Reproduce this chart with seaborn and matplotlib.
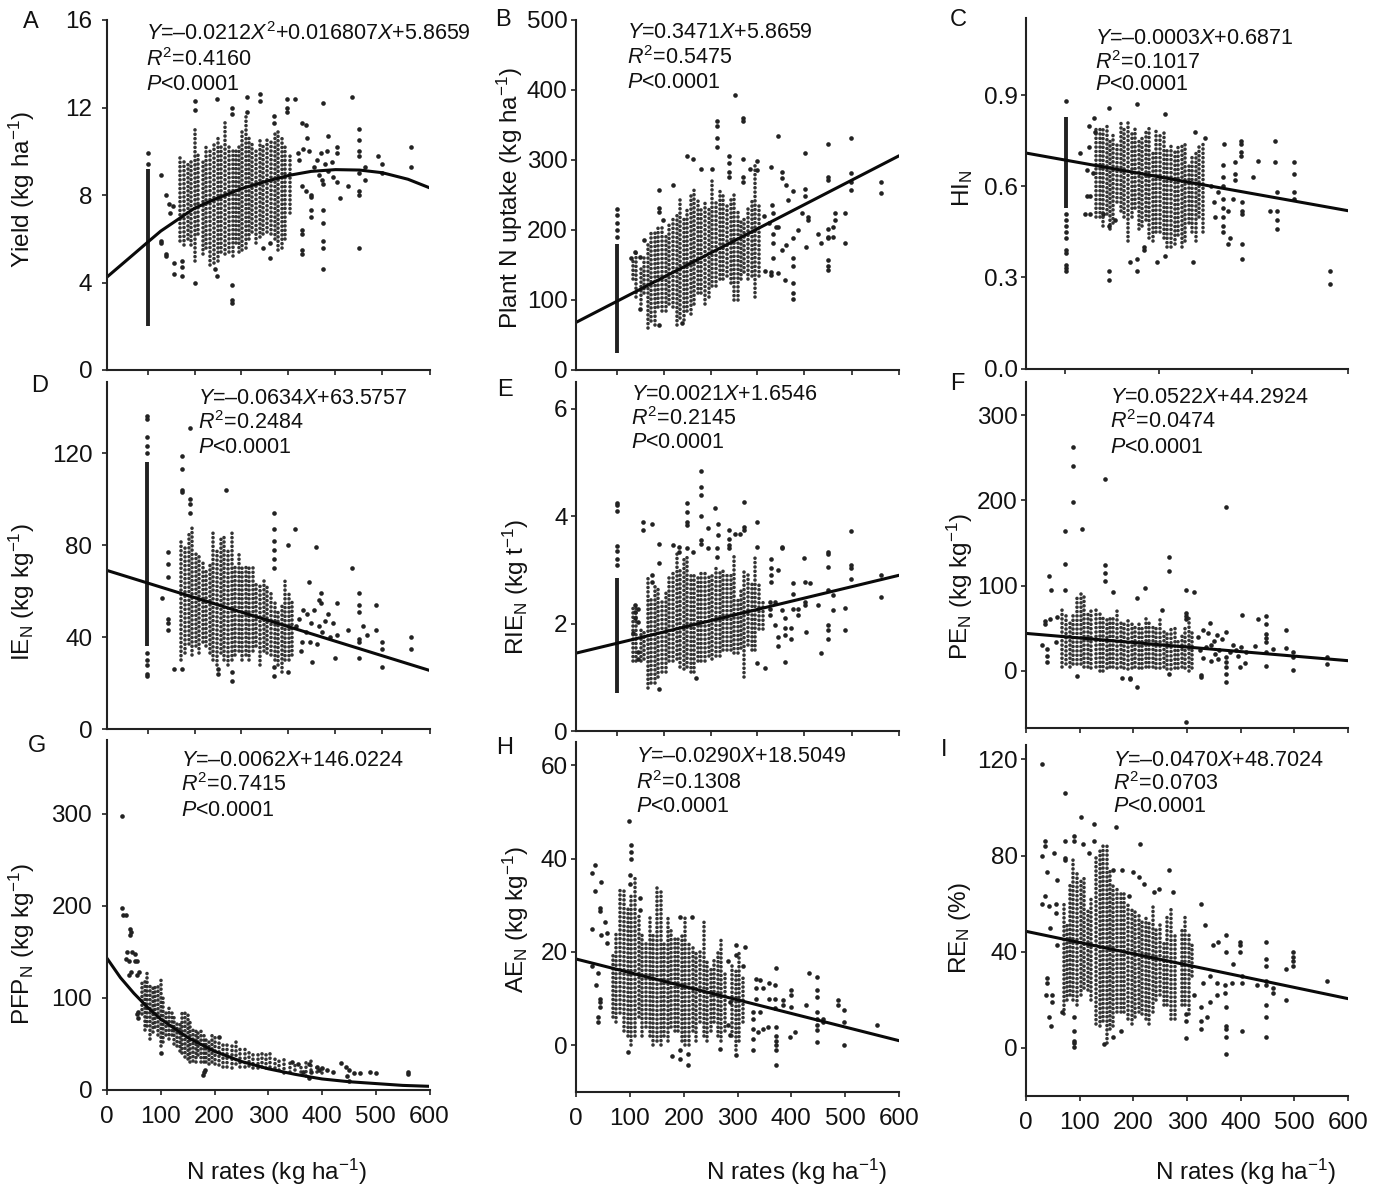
import numpy as np
import pandas as pd
import matplotlib
matplotlib.use("Agg")
import matplotlib.pyplot as plt
import seaborn as sns

sns.set_theme(style="ticks")
plt.rcParams["font.family"] = ["Liberation Sans", "DejaVu Sans"]
plt.rcParams["mathtext.fontset"] = "custom"
plt.rcParams["mathtext.rm"] = "Liberation Sans"
plt.rcParams["mathtext.it"] = "Liberation Sans:italic"
plt.rcParams["mathtext.default"] = "regular"

INK = "#222222"
W, H = 1382, 1195

# vertical runs of overlapping points: N rate, lowest and highest value of the run
# pts: the points that can be read one by one. fit: the fitted line.

# -- A yield --
a_col_x = [135,143,150,157,163,170,178,185,192,199,206,213,220,227,234,240,246,252,258,264,270,277,284,291,298,305,312,318,325,332,340]
a_col_lo = [5.9,5.7,6.0,5.7,5.0,6.2,5.3,5.6,4.8,4.9,5.0,5.4,5.3,5.4,5.2,5.8,5.4,5.5,5.6,6.0,6.3,5.8,6.1,6.2,6.3,6.2,6.0,5.5,5.6,6.0,7.2]
a_col_hi = [9.8,9.7,9.5,9.6,11.0,10.0,9.6,10.2,10.0,10.4,10.6,10.3,11.4,10.2,10.0,10.0,10.4,11.0,11.6,10.6,10.4,10.2,10.6,10.4,10.7,10.5,10.8,10.9,10.6,10.4,9.9]
a_strip = (76, 2.0, 9.2)
a_pts = [(76,9.9),(76,9.4),(163,12.3),(163,11.9),(204,12.4),(233,12.0),(233,11.7),(260,12.5),(260,11.8),(284,12.6),(284,12.3),(310,11.6),(310,11.3),(335,12.4),(335,12.0),(335,11.8),(350,12.4),(402,12.2),(455,12.5),(468,11.0),(468,10.5),(468,10.0),(468,9.8),(566,10.2),(566,9.3),(505,9.8),(511,9.4),(511,9.0),(412,10.7),(427,10.2),(427,9.9),(468,9.0),(468,8.2),(468,8.0),(480,9.3),(480,8.7),(449,8.4),(433,7.85),(402,8.5),(402,7.3),(402,6.7),(402,5.9),(402,5.6),(402,4.6),(380,7.9),(380,7.3),(380,7.0),(363,6.4),(363,6.2),(363,5.5),(363,5.3),(468,5.6),(233,3.9),(233,3.2),(233,3.05),(163,4.0),(140,4.3),(140,4.7),(140,5.0),(124,4.4),(124,4.9),(109,5.3),(109,5.2),(101,8.9),(101,5.9),(101,5.8),(110,8.0),(115,7.6),(123,7.5),(118,7.2),(200,4.6),(204,4.3),(304,5.1),(304,5.8),(290,5.6),(362,8.4),(371,8.2),(380,8.0),(390,9.6),(398,9.9),(405,9.4),(412,9.1),(420,8.8),(428,8.6),(395,8.9),(385,9.3),(375,10.0),(365,10.1),(355,9.9),(370,11.2),(362,11.3),(372,10.6),(358,9.6),(410,10.0),(400,8.7),(418,9.5)]
a_fit_x = [0,50,76,100,163,200,251,300,339,380,425,470,512,560,600]
a_fit_y = [4.25,5.3,5.85,6.35,7.4,7.8,8.3,8.65,8.9,9.08,9.16,9.14,9.02,8.72,8.33]

# -- B plant N uptake --
b_col_x = [105,112,120,127,133,140,147,153,160,167,173,180,187,193,200,207,213,220,227,233,240,247,253,260,267,273,280,287,293,300,307,313,320,327,333,340]
b_col_lo = [130,105,95,110,60,70,65,90,85,85,95,90,65,75,72,85,80,95,110,110,95,105,120,120,130,130,135,125,100,100,130,140,130,135,105,135]
b_col_hi = [160,170,150,165,180,200,200,205,205,195,210,215,225,245,215,230,250,260,245,230,240,230,270,240,260,250,240,245,255,230,215,215,235,245,295,240]
b_strip = (76, 25, 180)
b_pts = [(76,190),(76,200),(76,210),(76,222),(76,230),(295,393),(310,360),(310,355),(262,355),(262,348),(262,331),(262,319),(207,305),(218,302),(233,287),(253,287),(284,305),(284,295),(284,283),(284,276),(310,302),(310,276),(310,269),(324,287),(337,298),(337,286),(363,290),(382,283),(382,274),(375,334),(468,323),(468,276),(468,271),(511,332),(511,281),(511,269),(511,257),(566,268),(566,253),(425,310),(425,259),(425,248),(180,264),(155,257),(155,231),(155,226),(161,214),(126,186),(103,160),(110,169),(119,162),(118,87),(155,64),(197,67),(456,181),(468,202),(468,190),(468,188),(468,157),(468,148),(468,143),(478,205),(478,190),(482,224),(482,214),(500,224),(500,181),(450,195),(428,176),(403,160),(403,148),(403,124),(403,110),(403,102),(388,129),(375,138),(363,140),(363,136),(351,142),(382,171),(391,179),(403,188),(412,200),(419,224),(431,219),(431,214),(391,264),(403,255),(394,243),(366,224),(366,195),(366,181),(375,205),(366,160),(350,220),(358,210),(365,235),(372,205)]
b_fit_x = [0,600]
b_fit_y = [68,306]

# -- C HI --
c_col_x = [130,137,143,150,157,163,170,177,183,190,197,203,210,217,223,230,237,243,250,257,263,270,277,283,290,297,303,310,317,323,330]
c_col_lo = [.50,.50,.47,.51,.46,.48,.55,.52,.50,.42,.50,.53,.46,.47,.49,.43,.42,.45,.45,.43,.40,.40,.41,.44,.40,.42,.48,.45,.42,.50,.45]
c_col_hi = [.80,.80,.79,.81,.76,.78,.74,.81,.80,.81,.78,.80,.76,.77,.78,.80,.72,.79,.78,.79,.73,.74,.72,.73,.74,.75,.68,.70,.72,.73,.75]
c_strip = (75, .53, .83)
c_pts = [(75,.88),(75,.51),(75,.49),(75,.47),(75,.45),(75,.43),(75,.39),(75,.38),(75,.34),(75,.33),(75,.32),(154,.86),(206,.87),(259,.84),(315,.78),(334,.76),(369,.74),(400,.75),(400,.74),(400,.715),(400,.70),(433,.685),(464,.75),(464,.68),(499,.68),(499,.64),(423,.63),(467,.58),(467,.52),(467,.49),(467,.46),(454,.52),(499,.58),(499,.56),(566,.32),(566,.28),(402,.55),(402,.52),(402,.51),(402,.36),(380,.43),(376,.41),(402,.41),(311,.35),(259,.37),(245,.35),(206,.36),(206,.32),(193,.35),(154,.32),(154,.29),(219,.40),(219,.39),(368,.67),(368,.63),(368,.60),(368,.56),(368,.53),(368,.50),(368,.47),(368,.45),(389,.68),(389,.64),(389,.62),(352,.50),(101,.71),(117,.73),(117,.80),(127,.825),(129,.78),(113,.655),(120,.57),(113,.57),(120,.51),(110,.51),(125,.645),(144,.51),(154,.47),(166,.49),(345,.60),(350,.55),(358,.58),(376,.52),(385,.56)]
c_fit_x = [0,600]
c_fit_y = [.71,.52]

# -- D IE --
d_col_x = [138,145,152,158,165,172,178,185,192,198,205,212,218,225,232,238,245,252,258,265,272,278,285,292,298,305,312,318,325,332,338,345]
d_col_lo = [30,33,37,32,36,33,38,36,33,30,28,33,30,28,30,32,34,30,32,30,34,36,28,34,33,32,30,28,25,30,30,32]
d_col_hi = [82,80,85,88,78,76,74,70,72,86,78,84,84,78,86,72,76,70,72,70,71,64,64,66,62,60,55,52,54,65,60,56]
d_strip = (75, 36, 116)
d_pts = [(75,23),(75,24),(75,28),(75,30),(75,33),(75,120),(75,123),(75,127),(75,135),(75,136),(155,131),(140,119),(140,113),(140,104),(140,103),(154,100),(154,98),(154,94),(221,104),(310,94),(310,87),(310,82),(310,78),(310,74),(310,70),(350,87),(337,80),(389,79),(455,70),(376,64),(399,59),(399,55),(428,55),(468,59),(468,54),(468,51),(500,54),(500,43),(449,43),(477,45),(483,41),(468,39),(468,38),(468,31),(511,38),(511,35),(566,40),(566,35),(511,27),(424,31),(381,29),(337,25),(310,27),(310,23),(233,25),(233,21),(207,26),(207,24),(140,26),(124,26),(114,77),(114,72),(114,66),(114,48),(114,46),(114,43),(102,57),(405,47),(412,50),(420,46),(428,41),(400,42),(395,56),(385,52),(395,45),(380,46),(372,50),(365,52),(358,48),(370,42),(362,38),(378,38),(390,37),(414,40),(352,45),(360,34)]
d_fit_x = [0,600]
d_fit_y = [69,25.5]

# -- E RIE --
e_col_x = [105,112,120,127,133,140,147,153,160,167,173,180,187,193,200,207,213,220,227,233,240,247,253,260,267,273,280,287,293,300,307,313,320,327,333,340,347]
e_col_lo = [1.3,1.3,1.3,1.35,.8,.9,.9,1.0,1.1,1.1,1.3,1.3,1.35,1.2,1.15,1.2,1.1,1.1,1.3,1.3,1.3,1.4,1.35,1.4,1.4,1.5,1.5,1.5,1.45,1.45,1.55,1.0,1.6,1.5,1.5,1.9,1.9]
e_col_hi = [2.3,2.3,1.9,1.9,2.9,2.5,2.7,2.7,2.4,2.6,2.9,3.0,3.3,3.0,3.2,3.3,2.9,2.9,2.9,3.0,3.0,2.9,2.9,3.1,3.0,3.0,2.9,2.9,3.3,2.5,2.6,3.0,2.9,2.8,3.3,2.8,2.4]
e_strip = (76, .7, 2.85)
e_pts = [(76,3.1),(76,3.2),(76,3.35),(76,3.45),(76,4.1),(76,4.2),(76,4.25),(233,4.85),(233,4.55),(233,4.4),(233,4.0),(207,4.25),(207,4.08),(207,3.9),(207,3.83),(259,4.16),(312,4.27),(337,3.9),(263,3.85),(263,3.65),(245,3.78),(284,3.75),(284,3.58),(284,3.46),(284,3.4),(295,3.66),(304,3.66),(312,3.8),(312,3.74),(125,3.9),(125,3.74),(142,3.86),(155,3.48),(155,3.12),(181,3.46),(191,3.43),(191,3.33),(207,3.4),(218,3.34),(233,3.55),(233,3.49),(245,3.4),(261,3.4),(261,3.24),(337,3.43),(363,3.2),(363,3.03),(363,2.9),(363,2.78),(382,3.43),(382,3.4),(375,3.0),(424,3.22),(468,3.33),(468,3.3),(468,3.06),(511,3.72),(511,3.09),(511,3.03),(511,2.84),(566,2.9),(566,2.5),(500,2.3),(500,1.88),(478,2.53),(478,2.25),(468,2.62),(468,1.97),(468,1.88),(468,1.72),(450,2.34),(455,1.46),(428,1.85),(425,2.78),(425,2.4),(425,2.34),(434,2.75),(403,2.75),(403,2.56),(403,2.28),(400,1.91),(400,1.72),(388,2.1),(388,1.91),(388,1.79),(389,1.28),(375,1.75),(375,1.59),(369,1.97),(351,1.17),(337,1.26),(412,2.28),(412,2.16),(360,2.28),(360,2.16),(360,2.41),(382,2.25),(369,2.4),(222,.99),(155,.78),(110,2.34),(110,2.22),(110,2.1),(116,2.28),(116,2.03),(116,1.48),(116,1.35),(105,1.82),(142,2.9),(142,2.78)]
e_fit_x = [0,600]
e_fit_y = [1.45,2.9]

# -- F PE --
f_col_x = [68,75,82,88,95,102,108,115,122,130,137,143,150,157,163,170,177,183,190,197,203,210,217,223,230,237,243,250,257,263,270,277,283,290,297,303,310]
f_col_lo = [5,8,5,8,8,8,5,5,3,5,0,0,3,4,4,3,4,3,2,3,4,3,3,4,5,5,3,3,5,2,2,3,3,4,3,0,3]
f_col_hi = [72,68,58,68,85,95,90,70,70,72,68,66,62,65,65,72,60,60,60,55,52,58,50,62,58,55,50,62,50,45,50,50,38,45,52,65,48]
f_pts = [(87,263),(87,241),(87,198),(148,225),(373,192),(72,164),(105,167),(72,126),(148,124),(148,115),(148,105),(267,134),(267,117),(42,111),(47,95),(72,95),(163,92),(222,97),(206,85),(298,95),(313,92),(254,71),(298,68),(298,64),(298,61),(402,66),(433,61),(447,64),(447,55),(447,43),(447,39),(447,34),(342,56),(373,46),(485,48),(485,27),(461,26),(427,29),(498,22),(498,16),(560,16),(560,8),(498,1),(447,22),(447,6),(408,9),(399,5),(373,16),(373,10),(373,5),(373,-4),(373,-13),(327,-5),(327,-7),(267,-4),(206,-19),(194,-8),(194,-10),(178,-8),(95,-6),(298,-60),(39,26),(39,18),(39,10),(30,30),(36,59),(36,55),(45,61),(55,34),(58,63),(345,30),(352,20),(358,14),(365,38),(345,12),(360,25),(335,28),(330,15),(320,40),(330,48),(340,44),(355,42),(385,30),(392,25),(400,28),(410,22),(380,22),(395,18),(350,35),(325,25)]
f_fit_x = [0,600]
f_fit_y = [44,12]

# -- G PFP --
g_col_x = [65,70,75,80,85,90,95,100,105,110,115,120,125,130,135,140,145,150,155,160,165,170,175,180,185,190,195,200,208,216,224,232,240,248,256,264,272,280,288,296,304,312,320,330,340,350,360,370,380,390,400]
g_col_lo = [82,65,70,55,63,68,60,48,52,60,55,60,50,48,42,40,36,34,30,32,30,38,30,30,30,28,30,28,27,25,25,24,28,25,25,26,24,24,25,24,25,24,22,18,20,22,20,15,22,20,18]
g_col_hi = [118,120,130,115,115,115,115,122,100,88,90,85,80,72,72,84,84,84,75,65,65,66,65,60,55,55,60,58,53,52,52,50,52,48,45,44,42,40,42,40,40,36,36,34,34,30,28,32,32,28,26]
g_pts = [(27,297),(27,198),(30,190),(35,190),(43,175),(45,172),(43,168),(38,150),(35,142),(40,140),(47,150),(52,148),(55,140),(45,128),(40,125),(55,125),(60,128),(53,140),(57,85),(55,82),(57,78),(100,40),(178,16),(180,20),(182,22),(208,58),(435,29),(420,20),(445,25),(447,15),(450,22),(460,19),(470,19),(450,10),(490,20),(500,19),(560,17),(560,20),(410,22),(400,24),(390,25),(375,13),(375,28),(380,20),(395,22),(365,20),(355,28),(345,30)]
g_fit_x = [0,25,50,75,100,150,200,250,300,350,400,450,500,550,600]
g_fit_y = [143,122,105,90,77,57,42,31,23,17,12,9,7,5,4]

# -- H AE --
h_col_x = [68,75,82,90,97,103,110,117,123,130,137,143,150,157,163,170,177,183,190,197,203,210,217,223,230,237,243,250,257,263,270,277,290,297,303,310]
h_col_lo = [6,5,7,3,2,0,2,6,2,4,2,0,1,0,2,1,4,3,3,1,0,0,3,1,5,2,1,3,5,2,1,3,2,-1,1,5]
h_col_hi = [20,24,34,34,30,32,36,28,24,22,28,24,34,33,22,28,25,23,23,24,28,22,21,20,20,27,18,17,19,20,23,16,17,16,20,15]
h_pts = [(98,48),(103,43),(103,41.5),(103,40),(100,36.5),(100,34.5),(29,37),(36,38.7),(36,33),(46,35),(45,29.4),(45,28.7),(29,25),(54,26.5),(57,24),(57,22),(46,23.7),(29,17),(41,15.4),(38,13),(45,10),(45,9.3),(45,8.2),(40,6),(40,5),(119,31.5),(119,29),(215,27.6),(193,27.6),(97,-1.4),(178,-2.2),(193,-1),(193,-3),(208,-1.8),(208,-4.3),(267,-.7),(298,-2),(329,-1),(329,1.4),(372,-4.3),(372,4),(372,2),(372,1),(372,0),(372,-1),(314,21),(298,21.6),(298,19.3),(310,17),(372,16.5),(433,15.6),(448,14.7),(448,11.8),(448,10.4),(448,4.3),(448,3.2),(448,.7),(486,9.7),(486,8.6),(498,7.5),(498,5),(498,.1),(560,4.4),(399,11.8),(399,10.8),(399,8.2),(385,9.7),(385,8.6),(406,2.9),(398,1.8),(428,8.6),(459,5.7),(459,5),(447,7.2),(447,5.7),(359,13.3),(359,10),(369,12.9),(369,10),(369,7.9),(348,12.2),(348,3.6),(335,14.3),(335,12.2),(335,10),(341,14),(341,7.2),(329,7.2),(329,5.7),(329,3.6),(357,4),(338,2.9),(283,18),(283,4.3),(286,9.3),(286,2.2)]
h_fit_x = [0,600]
h_fit_y = [18.5,1]

# -- I RE --
i_col_x = [70,76,82,88,95,102,108,115,122,130,137,143,150,157,163,170,177,183,190,197,203,210,217,223,230,237,243,250,257,263,270,277,290,297,303,310]
i_col_lo = [14,20,22,20,18,22,25,24,20,10,9,11,2,8,9,15,15,15,12,10,13,15,14,12,10,15,20,22,18,18,12,12,18,18,14,30]
i_col_hi = [60,52,68,78,74,70,72,58,62,80,83,85,85,75,68,66,64,64,60,58,57,56,54,54,52,60,50,52,45,55,58,48,50,55,48,44]
i_pts = [(29,118),(72,106),(102,96),(127,93),(167,92),(213,85),(36,86),(36,84),(29,80),(53,81),(39,73),(58,70),(35,63),(29,60),(42,59),(56,60),(56,56),(44,50),(39,29),(39,27),(38,22),(48,22),(48,19),(42,13),(47,9),(58,43),(67,15),(89,7),(89,3),(89,2),(89,.3),(89,13),(146,1.7),(162,4.7),(177,7),(72,86),(89,88),(89,86),(73,79),(73,78),(106,85),(117,81),(127,86),(267,74),(273,65),(247,66),(239,65),(219,68),(200,73),(210,71),(178,74),(163,74),(192,63),(327,60),(334,51),(349,43),(358,44),(373,47),(373,40),(399,44),(399,43),(399,40),(386,35),(447,44),(447,37),(447,34),(498,40),(498,38),(498,36),(498,34),(485,33),(560,28),(485,20),(447,18),(447,13),(447,4.7),(402,7),(373,17),(373,9),(373,8),(373,4.4),(373,-2.5),(298,4),(298,14),(298,11),(327,17),(327,11),(327,8),(337,13),(461,25),(461,23),(447,28),(447,26),(430,26),(402,30),(402,27),(383,27),(371,26),(371,23),(355,27),(355,22),(343,19),(313,22),(330,27),(343,30)]
i_fit_x = [0,600]
i_fit_y = [48.5,20.5]

TICKS_7 = [76,163,250,337,424,512,600]
TICKS_6 = [0,100,200,300,400,500,600]

R2 = r"$\mathit{R}^{2}$="
P = r"$\mathit{P}$<0.0001"


def px_box(left, top, right, bottom):
    return [left / W, 1 - bottom / H, (right - left) / W, (bottom - top) / H]


def draw_panel(box, ylim, yticks, ylabels, xticks, cols, strip, pts, fit, pad):
    ax = fig.add_axes(px_box(*box))
    ax.patch.set_alpha(0)
    if strip is not None:
        ax.vlines(strip[0], strip[1], strip[2], color=INK, lw=2.8)
    ax.vlines(cols[0], cols[1], cols[2], color=INK, lw=2.6, alpha=.92,
              linestyles=[(0, (0.01, 1.2))], capstyle="round")
    df = pd.DataFrame(pts, columns=["rate", "value"])
    sns.scatterplot(data=df, x="rate", y="value", ax=ax, s=11, color=INK,
                    linewidth=0, clip_on=False, legend=False)
    sns.lineplot(x=fit[0], y=fit[1], ax=ax, color="#0a0a0a", lw=2.2, errorbar=None, sort=False)
    ax.set_xlim(0, 600)
    ax.set_ylim(*ylim)
    ax.set_xticks(xticks)
    ax.set_yticks(yticks)
    ax.set_yticklabels(ylabels)
    ax.tick_params(axis="y", length=3.6, width=1.2, pad=pad, labelsize=17.5, color=INK, labelcolor="#111111")
    ax.tick_params(axis="x", length=3.6, width=1.2, pad=8, labelsize=17.5, color=INK, labelcolor="#111111")
    ax.set_xlabel("")
    ax.set_ylabel("")
    sns.despine(ax=ax)
    for side in ["left", "bottom"]:
        ax.spines[side].set_linewidth(1.5)
        ax.spines[side].set_color(INK)
    return ax


def put(x, y, s, **kw):
    fig.text(x / W, 1 - y / H, s, color="#111111", **kw)


fig = plt.figure(figsize=(W / 100, H / 100), dpi=100)

COL1, COL2, COL3 = (107, 429.5), (576, 899), (1026, 1348)

ax_a = draw_panel((COL1[0], 20, COL1[1], 370), (0, 16), [0,4,8,12,16], ["0","4","8","12","16"], TICKS_7,
                  (a_col_x, a_col_lo, a_col_hi), a_strip, a_pts, (a_fit_x, a_fit_y), 7)
ax_b = draw_panel((COL2[0], 20, COL2[1], 370), (0, 500), [0,100,200,300,400,500], ["0","100","200","300","400","500"], TICKS_7,
                  (b_col_x, b_col_lo, b_col_hi), b_strip, b_pts, (b_fit_x, b_fit_y), 2.5)
ax_c = draw_panel((COL3[0], 18, COL3[1], 368.5), (0, 1.155), [0,.3,.6,.9], ["0.0","0.3","0.6","0.9"], [72,247,422,600],
                  (c_col_x, c_col_lo, c_col_hi), c_strip, c_pts, (c_fit_x, c_fit_y), 2.5)
ax_d = draw_panel((COL1[0], 382, COL1[1], 729), (0, 151), [0,40,80,120], ["0","40","80","120"], TICKS_7,
                  (d_col_x, d_col_lo, d_col_hi), d_strip, d_pts, (d_fit_x, d_fit_y), 7)
ax_e = draw_panel((COL2[0], 382, COL2[1], 731), (0, 6.5), [0,2,4,6], ["0","2","4","6"], TICKS_7,
                  (e_col_x, e_col_lo, e_col_hi), e_strip, e_pts, (e_fit_x, e_fit_y), 2.5)
ax_f = draw_panel((COL3[0], 382, COL3[1], 728), (-67, 339), [0,100,200,300], ["0","100","200","300"], TICKS_6,
                  (f_col_x, f_col_lo, f_col_hi), None, f_pts, (f_fit_x, f_fit_y), 2.5)
ax_g = draw_panel((COL1[0], 740, COL1[1], 1090), (0, 380), [0,100,200,300], ["0","100","200","300"], TICKS_6,
                  (g_col_x, g_col_lo, g_col_hi), None, g_pts, (g_fit_x, g_fit_y), 7)
ax_h = draw_panel((COL2[0], 742, COL2[1], 1092), (-10, 65), [0,20,40,60], ["0","20","40","60"], TICKS_6,
                  (h_col_x, h_col_lo, h_col_hi), None, h_pts, (h_fit_x, h_fit_y), 2.5)
ax_i = draw_panel((COL3[0], 745, COL3[1], 1096), (-20, 126), [0,40,80,120], ["0","40","80","120"], TICKS_6,
                  (i_col_x, i_col_lo, i_col_hi), None, i_pts, (i_fit_x, i_fit_y), 2.5)

for ax in [ax_a, ax_b, ax_c, ax_d, ax_e, ax_f]:
    ax.set_xticklabels([])

# panel letters
for s, x, y in [("A",31,22),("B",503,20),("C",958,20),("D",40,386),("E",505,390),("F",957,384),
                ("G",37,746),("H",505,748),("I",944,750)]:
    put(x, y, s, fontsize=17, ha="center", va="center")

# equations, R2 and P, three tight lines
for eq, r2, x, y0, y1, y2 in [
    (r"$\mathit{Y}$=–0.0212$\mathit{X}^{2}$+0.016807$\mathit{X}$+5.8659", "0.4160", 146, 34, 60, 85),
    (r"$\mathit{Y}$=0.3471$\mathit{X}$+5.8659", "0.5475", 627, 33, 58, 82),
    (r"$\mathit{Y}$=–0.0003$\mathit{X}$+0.6871", "0.1017", 1095, 38, 63, 85),
    (r"$\mathit{Y}$=–0.0634$\mathit{X}$+63.5757", "0.2484", 198, 398, 423, 447),
    (r"$\mathit{Y}$=0.0021$\mathit{X}$+1.6546", "0.2145", 631, 394, 419, 443),
    (r"$\mathit{Y}$=0.0522$\mathit{X}$+44.2924", "0.0474", 1110, 397, 422, 447),
    (r"$\mathit{Y}$=–0.0062$\mathit{X}$+146.0224", "0.7415", 181, 760, 785, 810),
    (r"$\mathit{Y}$=–0.0290$\mathit{X}$+18.5049", "0.1308", 636, 757, 783, 806),
    (r"$\mathit{Y}$=–0.0470$\mathit{X}$+48.7024", "0.0703", 1113, 760, 784, 807),
]:
    put(x, y0, eq, fontsize=15.5, va="center")
    put(x, y1, R2 + r2, fontsize=15.5, va="center")
    put(x, y2, P, fontsize=15.5, va="center")

# axis labels
for s, x, y in [
    (r"Yield (kg ha$^{-1}$)", 22, 190),
    (r"Plant N uptake (kg ha$^{-1}$)", 510, 198),
    (r"HI$_{N}$", 963, 188),
    (r"IE$_{N}$ (kg kg$^{-1}$)", 22, 592),
    (r"RIE$_{N}$ (kg t$^{-1}$)", 516, 587),
    (r"PE$_{N}$ (kg kg$^{-1}$)", 960, 587),
    (r"PFP$_{N}$ (kg kg$^{-1}$)", 22, 944),
    (r"AE$_{N}$ (kg kg$^{-1}$)", 516, 920),
    (r"RE$_{N}$ (%)", 960, 928),
]:
    put(x, y, s, fontsize=17.5, rotation=90, ha="center", va="center")

for x in [277, 797, 1246]:
    put(x, 1172, r"N rates (kg ha$^{-1}$)", fontsize=17.5, ha="center", va="center")

fig.savefig("out.png", dpi=100)
